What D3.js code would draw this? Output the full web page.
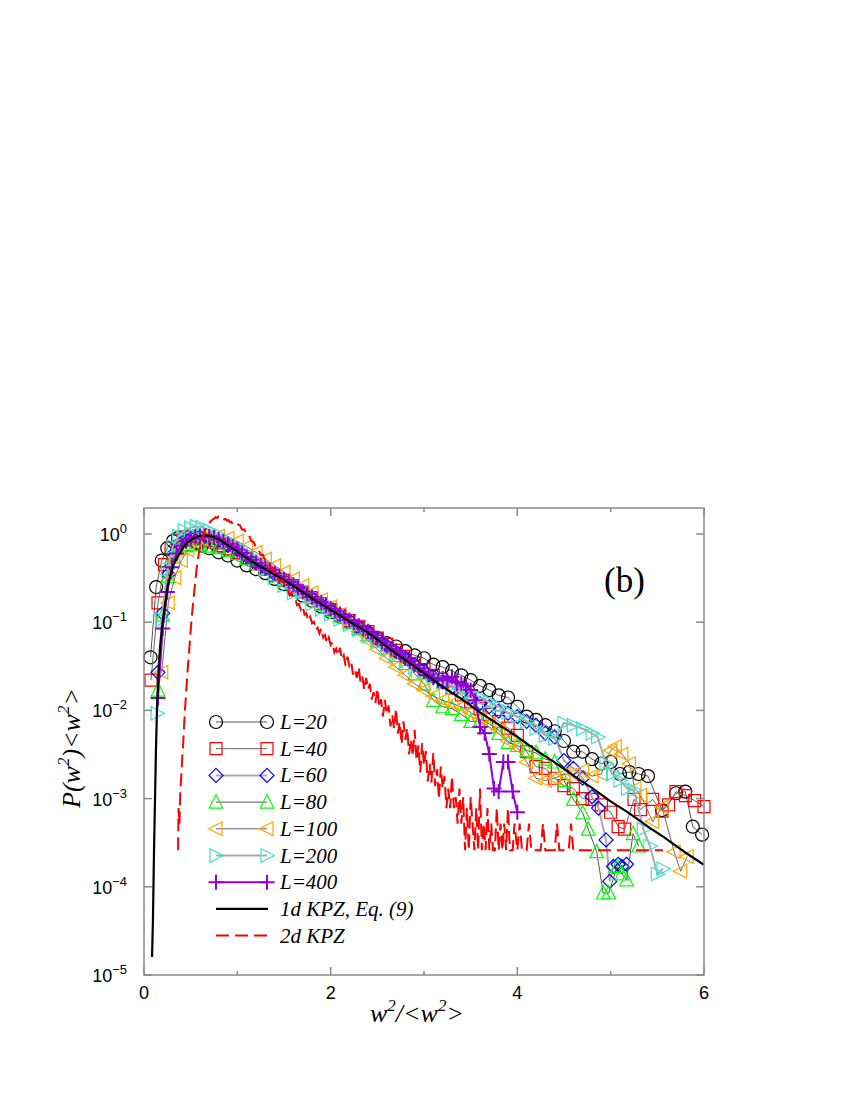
<!DOCTYPE html>
<meta charset="utf-8">
<html>
<head>
<script src="https://d3js.org/d3.v7.min.js"></script>
<style>
  body { margin: 0; background: #fff; }
  svg { display: block; }
  .tick_label { font-family: "Liberation Sans", Arial, sans-serif; font-size: 18px; fill: #000; }
  .serif { font-family: "Liberation Serif", "Times New Roman", serif; font-style: italic; fill: #000; }
</style>
</head>
<body>
<script>

// sets: [w^2/<w^2>, P(w^2)<w^2>]
const L20 = [[0.07,0.04],[0.13,0.25],[0.19,0.5],[0.25,0.69],[0.31,0.83],[0.37,0.91],[0.44,0.93],[0.5,0.86],[0.56,0.8],[0.62,0.74],[0.7,0.69],[0.8,0.62],[0.9,0.57],[1.0,0.5],[1.1,0.44],[1.2,0.4],[1.3,0.36],[1.4,0.31],[1.5,0.27],[1.6,0.235],[1.7,0.2],[1.8,0.175],[1.9,0.15],[2.0,0.13],[2.1,0.115],[2.2,0.1],[2.3,0.087],[2.4,0.076],[2.5,0.066],[2.6,0.058],[2.7,0.053],[2.8,0.047],[2.9,0.042],[3.0,0.039],[3.1,0.033],[3.2,0.031],[3.3,0.028],[3.4,0.025],[3.5,0.022],[3.6,0.019],[3.7,0.017],[3.8,0.0148],[3.9,0.014],[4.0,0.011],[4.1,0.0085],[4.2,0.0078],[4.3,0.0068],[4.4,0.0058],[4.5,0.0045],[4.6,0.0034],[4.7,0.0034],[4.8,0.0028],[4.9,0.0025],[5.0,0.0026],[5.1,0.0019],[5.2,0.002],[5.3,0.0019],[5.4,0.0018],[5.55,0.00074],[5.7,0.00115],[5.8,0.0012],[5.88,0.00048],[5.98,0.00039]];

const L40 = [[0.075,0.022],[0.15,0.166],[0.22,0.45],[0.29,0.7],[0.36,0.85],[0.43,0.92],[0.5,0.93],[0.57,0.9],[0.64,0.88],[0.71,0.84],[0.78,0.79],[0.85,0.74],[0.92,0.68],[1.0,0.62],[1.1,0.54],[1.2,0.46],[1.3,0.4],[1.4,0.34],[1.5,0.3],[1.6,0.26],[1.7,0.22],[1.8,0.19],[1.9,0.163],[2.0,0.14],[2.1,0.12],[2.2,0.104],[2.3,0.09],[2.4,0.078],[2.5,0.066],[2.6,0.056],[2.7,0.048],[2.8,0.041],[2.9,0.034],[3.0,0.029],[3.1,0.025],[3.2,0.021],[3.3,0.018],[3.4,0.015],[3.5,0.0125],[3.6,0.0105],[3.7,0.009],[3.8,0.0075],[3.9,0.0063],[4.0,0.0052],[4.1,0.0034],[4.2,0.0023],[4.3,0.0022],[4.4,0.0017],[4.5,0.0014],[4.6,0.0013],[4.7,0.001],[4.8,0.00098],[4.9,0.00085],[5.0,0.0007],[5.08,0.00048],[5.15,0.00045],[5.25,0.00098],[5.32,0.00075],[5.45,0.00098],[5.55,0.00072],[5.62,0.00085],[5.7,0.0012],[5.8,0.00108],[5.9,0.00095],[6.0,0.00081]];

const L60 = [[0.15,0.027],[0.2,0.126],[0.26,0.35],[0.32,0.6],[0.38,0.78],[0.45,0.87],[0.52,0.92],[0.6,0.93],[0.7,0.9],[0.8,0.84],[0.9,0.74],[1.0,0.66],[1.1,0.56],[1.2,0.48],[1.3,0.41],[1.4,0.35],[1.5,0.3],[1.6,0.26],[1.7,0.22],[1.8,0.19],[1.9,0.16],[2.0,0.14],[2.1,0.12],[2.2,0.103],[2.3,0.088],[2.4,0.076],[2.5,0.064],[2.6,0.054],[2.7,0.046],[2.8,0.039],[2.9,0.033],[3.0,0.028],[3.1,0.024],[3.2,0.021],[3.3,0.0185],[3.4,0.016],[3.5,0.014],[3.6,0.012],[3.7,0.011],[3.8,0.0098],[3.9,0.0093],[4.0,0.0085],[4.1,0.0075],[4.2,0.0068],[4.3,0.0055],[4.4,0.005],[4.5,0.0027],[4.6,0.0022],[4.7,0.0017],[4.8,0.00105],[4.87,0.00078],[4.95,0.00034],[4.99,0.000115],[5.03,0.00017],[5.08,0.00018],[5.12,0.00017],[5.17,0.00018]];

const L80 = [[0.15,0.017],[0.2,0.12],[0.26,0.33],[0.32,0.55],[0.38,0.68],[0.45,0.74],[0.52,0.76],[0.6,0.75],[0.7,0.73],[0.8,0.7],[0.9,0.65],[1.0,0.6],[1.1,0.53],[1.2,0.46],[1.3,0.4],[1.4,0.345],[1.5,0.3],[1.6,0.26],[1.7,0.22],[1.8,0.19],[1.9,0.16],[2.0,0.137],[2.1,0.118],[2.2,0.1],[2.3,0.085],[2.4,0.072],[2.5,0.061],[2.6,0.051],[2.7,0.042],[2.8,0.034],[2.9,0.026],[3.0,0.02],[3.1,0.013],[3.2,0.011],[3.3,0.0105],[3.4,0.009],[3.5,0.0075],[3.6,0.0075],[3.7,0.0065],[3.8,0.0055],[3.9,0.0043],[4.0,0.004],[4.1,0.0035],[4.2,0.0033],[4.3,0.0028],[4.4,0.0026],[4.5,0.0016],[4.6,0.00098],[4.7,0.00069],[4.76,0.00045],[4.85,0.00025],[4.92,0.000085],[4.98,0.000085],[5.07,0.00017],[5.12,0.00014],[5.17,0.00012],[5.24,0.0004],[5.3,0.00029]];

const L100 = [[0.19,0.027],[0.26,0.166],[0.33,0.32],[0.4,0.5],[0.47,0.66],[0.55,0.8],[0.62,0.88],[0.7,0.93],[0.8,0.95],[0.9,0.9],[1.0,0.83],[1.1,0.72],[1.2,0.62],[1.3,0.52],[1.4,0.44],[1.5,0.37],[1.6,0.31],[1.7,0.26],[1.8,0.215],[1.9,0.18],[2.0,0.15],[2.1,0.122],[2.2,0.098],[2.3,0.078],[2.4,0.062],[2.5,0.049],[2.6,0.039],[2.7,0.031],[2.8,0.025],[2.9,0.02],[3.0,0.017],[3.1,0.0145],[3.2,0.013],[3.3,0.012],[3.4,0.011],[3.5,0.0095],[3.6,0.008],[3.7,0.007],[3.8,0.006],[3.9,0.0045],[4.0,0.0038],[4.1,0.0026],[4.2,0.0017],[4.3,0.0016],[4.4,0.0017],[4.5,0.0019],[4.6,0.0019],[4.7,0.0021],[4.8,0.0018],[4.9,0.0019],[5.0,0.0035],[5.05,0.0039],[5.12,0.0032],[5.2,0.0025],[5.26,0.0013],[5.32,0.0011],[5.45,0.00055],[5.55,0.0008],[5.68,0.00025],[5.75,0.00015],[5.82,0.00022]];

const L200 = [[0.14,0.0093],[0.19,0.107],[0.25,0.4],[0.31,0.72],[0.37,0.95],[0.43,1.1],[0.5,1.18],[0.56,1.22],[0.62,1.2],[0.7,1.1],[0.8,0.98],[0.9,0.85],[1.0,0.72],[1.1,0.6],[1.2,0.5],[1.3,0.4],[1.4,0.32],[1.5,0.26],[1.6,0.215],[1.7,0.185],[1.8,0.16],[1.9,0.14],[2.0,0.123],[2.1,0.108],[2.2,0.094],[2.3,0.082],[2.4,0.07],[2.5,0.06],[2.6,0.051],[2.7,0.043],[2.8,0.036],[2.9,0.031],[3.0,0.027],[3.1,0.024],[3.2,0.021],[3.3,0.019],[3.4,0.0175],[3.5,0.016],[3.6,0.014],[3.7,0.0125],[3.8,0.011],[3.9,0.0095],[4.0,0.0085],[4.1,0.0075],[4.2,0.0062],[4.3,0.0052],[4.4,0.0048],[4.5,0.0072],[4.6,0.0068],[4.7,0.0062],[4.8,0.0055],[4.86,0.005],[4.95,0.0025],[5.02,0.0019],[5.1,0.0016],[5.18,0.0013],[5.25,0.00125],[5.35,0.00045],[5.42,0.00029],[5.5,0.00014],[5.56,0.00016]];

const L400 = [[0.15,0.0138],[0.2,0.085],[0.25,0.22],[0.3,0.42],[0.35,0.6],[0.4,0.74],[0.45,0.83],[0.5,0.89],[0.55,0.93],[0.6,0.95],[0.65,0.95],[0.7,0.94],[0.75,0.91],[0.8,0.87],[0.85,0.82],[0.9,0.77],[0.95,0.72],[1.0,0.67],[1.05,0.61],[1.1,0.55],[1.15,0.51],[1.2,0.47],[1.25,0.44],[1.3,0.41],[1.35,0.385],[1.4,0.36],[1.45,0.33],[1.5,0.305],[1.55,0.285],[1.6,0.265],[1.65,0.245],[1.7,0.225],[1.75,0.21],[1.8,0.193],[1.85,0.18],[1.9,0.168],[1.95,0.155],[2.0,0.143],[2.05,0.133],[2.1,0.124],[2.15,0.115],[2.2,0.106],[2.25,0.099],[2.3,0.092],[2.35,0.085],[2.4,0.079],[2.45,0.072],[2.5,0.066],[2.55,0.06],[2.6,0.055],[2.65,0.05],[2.7,0.047],[2.75,0.043],[2.8,0.039],[2.85,0.036],[2.9,0.033],[2.95,0.03],[3.0,0.0275],[3.05,0.0255],[3.1,0.0235],[3.15,0.022],[3.2,0.023],[3.25,0.022],[3.3,0.024],[3.35,0.021],[3.4,0.02],[3.45,0.019],[3.5,0.017],[3.55,0.013],[3.6,0.0065],[3.65,0.0055],[3.7,0.0032],[3.75,0.0013],[3.8,0.0012],[3.85,0.0026],[3.9,0.0026],[3.95,0.0012],[4.0,0.0007]];

const kpz1d = [[0.086,1.6e-5],[0.096,4.3e-5],[0.107,2.5e-4],[0.118,9.8e-4],[0.128,3.5e-3],[0.139,0.0102],[0.155,0.026],[0.171,0.049],[0.19,0.079],[0.204,0.107],[0.23,0.17],[0.257,0.263],[0.28,0.33],[0.31,0.427],[0.35,0.53],[0.386,0.61],[0.42,0.7],[0.46,0.79],[0.52,0.88],[0.6,0.955],[0.68,0.965],[0.75,0.92],[0.8,0.87],[0.9,0.74],[1.0,0.63],[1.2,0.457],[1.4,0.347],[1.6,0.257],[1.8,0.186],[2.0,0.138],[2.2,0.102],[2.4,0.0759],[2.6,0.0525],[2.8,0.0372],[3.0,0.0263],[3.2,0.0186],[3.4,0.0135],[3.6,0.0095],[3.8,0.0069],[4.0,0.005],[4.2,0.00355],[4.4,0.00257],[4.6,0.00182],[4.8,0.00132],[5.0,0.00093],[5.2,0.00068],[5.4,0.00048],[5.6,0.000347],[5.8,0.000245],[6.0,0.000178]];

const kpz2d = [[0.365,2.6e-4],[0.37,7.8e-4],[0.38,5.2e-4],[0.39,1.3e-3],[0.40,1.8e-3],[0.41,2.9e-3],[0.42,4.2e-3],[0.43,6.8e-3],[0.44,0.0105],[0.45,0.015],[0.46,0.022],[0.475,0.036],[0.49,0.058],[0.50,0.08],[0.515,0.124],[0.53,0.18],[0.545,0.26],[0.56,0.37],[0.575,0.5],[0.59,0.62],[0.605,0.75],[0.62,0.86],[0.635,0.96],[0.65,1.07],[0.665,1.15],[0.68,1.24],[0.695,1.3],[0.71,1.38],[0.725,1.43],[0.74,1.47],[0.755,1.5],[0.77,1.56],[0.785,1.52],[0.80,1.58],[0.815,1.54],[0.83,1.5],[0.845,1.53],[0.86,1.46],[0.875,1.48],[0.89,1.42],[0.905,1.44],[0.92,1.36],[0.935,1.38],[0.95,1.3],[0.965,1.33],[0.98,1.26],[1.0,1.28],[1.025,1.27],[1.05,1.12],[1.075,1.13],[1.1,0.99],[1.125,0.97],[1.15,0.83],[1.175,0.81],[1.2,0.70],[1.225,0.68],[1.25,0.58],[1.275,0.58],[1.3,0.49],[1.325,0.48],[1.35,0.41],[1.375,0.42],[1.4,0.35],[1.425,0.34],[1.45,0.29],[1.475,0.3],
  [1.5,0.282],[1.52,0.237],[1.54,0.238],[1.56,0.202],[1.58,0.215],[1.6,0.186],[1.62,0.187],[1.64,0.156],[1.66,0.16],[1.68,0.139],[1.7,0.151],[1.72,0.122],[1.74,0.126],[1.76,0.104],[1.78,0.115],[1.8,0.097],[1.82,0.101],[1.84,0.0817],[1.86,0.0865],[1.88,0.0745],[1.9,0.0851],[1.92,0.067],[1.94,0.0711],[1.96,0.0573],[1.98,0.0667],[2.0,0.0552],[2.02,0.0592],[2.04,0.0455],[2.06,0.0501],[2.08,0.0419],[2.1,0.0513],[2.12,0.0377],[2.14,0.0421],[2.16,0.0319],[2.18,0.0406],[2.2,0.0321],[2.22,0.0356],[2.24,0.0255],[2.26,0.0294],[2.28,0.0234],[2.3,0.0309],[2.32,0.0209],[2.34,0.0242],[2.36,0.0171],[2.38,0.0233],[2.4,0.0174],[2.42,0.02],[2.44,0.0133],[2.46,0.0161],[2.48,0.0122],[2.5,0.0178],[2.52,0.0108],[2.54,0.0134],[2.56,0.00855],[2.58,0.0132],[2.6,0.00908],[2.62,0.0114],[2.64,0.00658],[2.66,0.00879],[2.68,0.00617],[2.7,0.0105],[2.72,0.00545],[2.74,0.00738],[2.76,0.00413],[2.78,0.00752],[2.8,0.00463],[2.82,0.0063],[2.84,0.00318],[2.86,0.0047],[2.88,0.00303],[2.9,0.00603],[2.92,0.0027],[2.94,0.00402],[2.96,0.00198],[2.98,0.00425],[3.0,0.00238],[3.02,0.00345],[3.04,0.00157],[3.06,0.0025],[3.08,0.00152],[3.1,0.00331],[3.12,0.00138],[3.14,0.00215],[3.16,0.00099],[3.18,0.00231],[3.2,0.0013],[3.22,0.0018],[3.24,0.00078],[3.26,0.0013],[3.28,0.00078],[3.3,0.0018],[3.32,0.00078],[3.34,0.00104],[3.36,0.00052],[3.38,0.0013],[3.4,0.00052],[3.42,0.00104],[3.44,0.00026],[3.46,0.00078],[3.48,0.00026],[3.5,0.00104],[3.52,0.00052],[3.54,0.00026],[3.56,0.00078],[3.58,0.00026],[3.6,0.0013],[3.62,0.00026],[3.64,0.00052],[3.66,0.00026],[3.68,0.00078],[3.7,0.00026],[3.72,0.00052],[3.74,0.00026],[3.76,0.00026],[3.78,0.00078],[3.8,0.00026],[3.82,0.00052],[3.84,0.00026],[3.86,0.00052],[3.88,0.00026],[3.9,0.00078],[3.92,0.00026],[3.95,0.00026],[3.97,0.00052],[4.0,0.00026],[4.025,0.00052],[4.05,0.00026],[4.1,0.00026],[4.125,0.00052],[4.15,0.00026],[4.25,0.00026],[4.275,0.00052],[4.3,0.00026],[4.4,0.00026],[4.425,0.00052],[4.45,0.00026],[4.55,0.00026],[4.575,0.00052],[4.6,0.00026],[4.8,0.00026],[5.0,0.00026],[5.2,0.00026],[5.4,0.00026],[5.56,0.00026]];

const x_major = [0, 2, 4, 6],
      x_minor = [1, 3, 5],
      y_ticks = [1, 1e-1, 1e-2, 1e-3, 1e-4, 1e-5],
      y_tick_exps = ['0', '\u22121', '\u22122', '\u22123', '\u22124', '\u22125'];

const set_names = ['L=20', 'L=40', 'L=60', 'L=80', 'L=100', 'L=200', 'L=400'],
      curve_names = ['1d KPZ, Eq. (9)', '2d KPZ'];

const frame = {left: 144, right: 704, top: 508, bottom: 975};

const sets = [
  {data: L20,  colour: '#000000', symbol: 'circle',   line: '#555', line_w: 1},
  {data: L40,  colour: '#ff0000', symbol: 'square',   line: '#666', line_w: 1},
  {data: L60,  colour: '#0000ff', symbol: 'diamond',  line: '#aaa', line_w: 2},
  {data: L80,  colour: '#00ff00', symbol: 'tri_up',   line: '#555', line_w: 1},
  {data: L100, colour: '#ffa500', symbol: 'tri_left', line: '#666', line_w: 1},
  {data: L200, colour: '#40e0d0', symbol: 'tri_right',line: '#aaa', line_w: 2},
  {data: L400, colour: '#9400d3', symbol: 'plus',     line: '#9400d3', line_w: 2}
];

const symbol_path = s => ({
  circle:    'M6.5,0A6.5,6.5 0 1,1 -6.5,0A6.5,6.5 0 1,1 6.5,0Z',
  square:    'M-6,-6H6V6H-6Z',
  diamond:   'M0,-7L7,0L0,7L-7,0Z',
  tri_up:    'M0,-7.5L6.8,6L-6.8,6Z',
  tri_left:  'M-7.5,0L6,-6.8L6,6.8Z',
  tri_right: 'M7.5,0L-6,-6.8L-6,6.8Z',
  plus:      'M-7.5,0H7.5M0,-7.5V7.5'
})[s];

const x = d3.scaleLinear().domain([0, 6]).range([frame.left, frame.right]),
      y = d3.scaleLog().domain([1e-5, 1.971]).range([frame.bottom, frame.top]);

const line = d3.line().x(d => x(d[0])).y(d => y(d[1])),
      smooth_line = d3.line().x(d => x(d[0])).y(d => y(d[1])).curve(d3.curveMonotoneX);

const svg = d3.select('body').append('svg')
  .attr('width', 850)
  .attr('height', 1100);

svg.append('defs').append('clipPath').attr('id', 'plot_clip')
  .append('rect')
    .attr('x', frame.left).attr('y', frame.top)
    .attr('width', frame.right - frame.left).attr('height', frame.bottom - frame.top);

const plot = svg.append('g');

const draw_set = (g, s) => {
  g.append('path')
    .datum(s.data)
    .attr('d', line)
    .attr('fill', 'none')
    .attr('stroke', s.line)
    .attr('stroke-width', s.line_w);
  g.selectAll('path.mark')
    .data(s.data)
    .join('path')
      .attr('class', 'mark')
      .attr('transform', d => `translate(${x(d[0])},${y(d[1])})`)
      .attr('d', symbol_path(s.symbol))
      .attr('fill', 'none')
      .attr('stroke', s.colour)
      .attr('stroke-width', s.symbol === 'plus' ? 2 : 1.2);
};

sets.forEach(s => draw_set(plot.append('g'), s));

const curves = plot.append('g').attr('clip-path', 'url(#plot_clip)');

curves.append('path')
  .datum(kpz1d)
  .attr('d', smooth_line)
  .attr('fill', 'none')
  .attr('stroke', '#000')
  .attr('stroke-width', 2.2);

curves.append('path')
  .datum(kpz2d)
  .attr('d', line)
  .attr('fill', 'none')
  .attr('stroke', '#ff0000')
  .attr('stroke-width', 2)
  .attr('stroke-dasharray', '13,6');

// frame and ticks
const axis = svg.append('g').attr('stroke', '#8a8a8a').attr('stroke-width', 1.5);

axis.append('rect')
  .attr('x', frame.left).attr('y', frame.top)
  .attr('width', frame.right - frame.left).attr('height', frame.bottom - frame.top)
  .attr('fill', 'none');

const x_tick = (v, len) => {
  axis.append('line').attr('x1', x(v)).attr('x2', x(v)).attr('y1', frame.bottom).attr('y2', frame.bottom - len);
  axis.append('line').attr('x1', x(v)).attr('x2', x(v)).attr('y1', frame.top).attr('y2', frame.top + len);
};
x_major.forEach(v => x_tick(v, 8));
x_minor.forEach(v => x_tick(v, 4));

y_ticks.forEach(v => {
  axis.append('line').attr('x1', frame.left).attr('x2', frame.left + 8).attr('y1', y(v)).attr('y2', y(v));
  axis.append('line').attr('x1', frame.right).attr('x2', frame.right - 8).attr('y1', y(v)).attr('y2', y(v));
});

svg.selectAll('text.x_lab')
  .data(x_major)
  .join('text')
    .attr('class', 'tick_label x_lab')
    .attr('x', d => x(d))
    .attr('y', frame.bottom + 24)
    .attr('text-anchor', 'middle')
    .text(d => d);

const y_lab = svg.selectAll('text.y_lab')
  .data(y_ticks)
  .join('text')
    .attr('class', 'tick_label y_lab')
    .attr('x', 127)
    .attr('y', d => y(d) + 7)
    .attr('text-anchor', 'end');
y_lab.append('tspan').text('10');
y_lab.append('tspan')
  .attr('dy', -8)
  .attr('font-size', 13)
  .text((d, i) => y_tick_exps[i]);

// axis titles
const y_title = svg.append('text')
  .attr('class', 'serif')
  .attr('font-size', 26)
  .attr('text-anchor', 'middle')
  .attr('transform', 'translate(80,748) rotate(-90)');
[['P(w', 0], ['2', -11], [')<w', 11], ['2', -11], ['>', 11]].forEach(([t, dy]) => {
  y_title.append('tspan').attr('dy', dy).attr('font-size', t === '2' ? 17 : 26).text(t);
});

const x_title = svg.append('text')
  .attr('class', 'serif')
  .attr('font-size', 26)
  .attr('text-anchor', 'middle')
  .attr('x', 417)
  .attr('y', 1022);
[['w', 0], ['2', -11], ['/<w', 11], ['2', -11], ['>', 11]].forEach(([t, dy]) => {
  x_title.append('tspan').attr('dy', dy).attr('font-size', t === '2' ? 17 : 26).text(t);
});

svg.append('text')
  .attr('x', 604)
  .attr('y', 592)
  .attr('font-family', '"Liberation Serif", "Times New Roman", serif')
  .attr('font-size', 35)
  .text('(b)');

// legend
const legend_x0 = 216, legend_x1 = 267, legend_text_x = 280, legend_y0 = 722, legend_dy = 26.7;

const legend = svg.append('g');
sets.forEach((s, i) => {
  const ly = legend_y0 + i * legend_dy,
        g = legend.append('g');
  g.append('line')
    .attr('x1', legend_x0).attr('x2', legend_x1).attr('y1', ly).attr('y2', ly)
    .attr('stroke', s.line).attr('stroke-width', s.line_w);
  [legend_x0, legend_x1].forEach(lx => {
    g.append('path')
      .attr('transform', `translate(${lx},${ly})`)
      .attr('d', symbol_path(s.symbol))
      .attr('fill', 'none')
      .attr('stroke', s.colour)
      .attr('stroke-width', s.symbol === 'plus' ? 2 : 1.2);
  });
  g.append('text')
    .attr('class', 'serif')
    .attr('font-size', 21)
    .attr('x', legend_text_x)
    .attr('y', ly + 7)
    .text(set_names[i]);
});

const curve_styles = [
  {stroke: '#000', width: 2.2, dash: null},
  {stroke: '#ff0000', width: 2, dash: '13,6'}
];
curve_names.forEach((name, i) => {
  const ly = legend_y0 + (sets.length + i) * legend_dy;
  legend.append('line')
    .attr('x1', legend_x0).attr('x2', legend_x1 + 1).attr('y1', ly).attr('y2', ly)
    .attr('stroke', curve_styles[i].stroke)
    .attr('stroke-width', curve_styles[i].width)
    .attr('stroke-dasharray', curve_styles[i].dash);
  legend.append('text')
    .attr('class', 'serif')
    .attr('font-size', 21)
    .attr('x', legend_text_x)
    .attr('y', ly + 7)
    .text(name);
});

</script>
</body>
</html>
